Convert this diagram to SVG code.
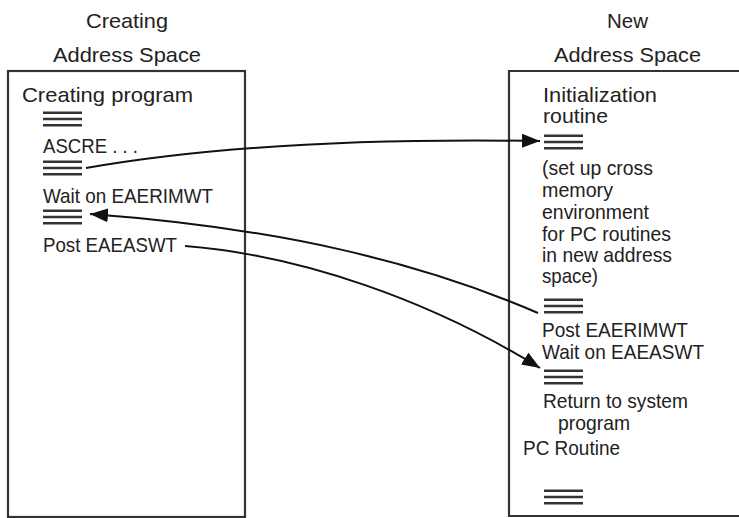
<svg xmlns="http://www.w3.org/2000/svg" width="739" height="518" viewBox="0 0 739 518">
<style>
text{font-family:"Liberation Sans",Arial,sans-serif;font-size:21px;fill:#222;}
.box{fill:none;stroke:#333;stroke-width:2.2;}
.eq{stroke:#333;stroke-width:2.6;}
.conn{fill:none;stroke:#111;stroke-width:2;}
</style>
<defs>
<marker id="ah" markerUnits="userSpaceOnUse" markerWidth="20" markerHeight="14" refX="18" refY="7" orient="auto">
<path d="M0,0 L18,7 L0,14 Z" fill="#111"/>
</marker>
<g id="eqsym">
<line class="eq" x1="0" y1="-6.3" x2="39" y2="-6.3"/>
<line class="eq" x1="0" y1="0" x2="39" y2="0"/>
<line class="eq" x1="0" y1="6.3" x2="39" y2="6.3"/>
</g>
</defs>
<rect width="739" height="518" fill="#fff"/>

<g id="creating-space">
<text x="86" y="28" textLength="82" lengthAdjust="spacingAndGlyphs">Creating</text>
<text x="53" y="62" textLength="148" lengthAdjust="spacingAndGlyphs">Address Space</text>
<rect class="box" x="8" y="71" width="237" height="446"/>
<text x="22" y="102" textLength="171" lengthAdjust="spacingAndGlyphs">Creating program</text>
<use href="#eqsym" x="43" y="119"/>
<text x="43" y="153" textLength="95" lengthAdjust="spacingAndGlyphs">ASCRE . . .</text>
<use href="#eqsym" x="43" y="168"/>
<text x="43" y="203" textLength="170" lengthAdjust="spacingAndGlyphs">Wait on EAERIMWT</text>
<use href="#eqsym" x="43" y="217"/>
<text x="43" y="252" textLength="134" lengthAdjust="spacingAndGlyphs">Post EAEASWT</text>
</g>

<g id="new-space">
<text x="607" y="28" textLength="41" lengthAdjust="spacingAndGlyphs">New</text>
<text x="554" y="62" textLength="147" lengthAdjust="spacingAndGlyphs">Address Space</text>
<path class="box" d="M745,71 H509 V516 H745"/>
<text x="543" y="102" textLength="114" lengthAdjust="spacingAndGlyphs">Initialization</text>
<text x="543" y="123" textLength="65" lengthAdjust="spacingAndGlyphs">routine</text>
<use href="#eqsym" x="544" y="142"/>
<text x="542" y="175" textLength="111" lengthAdjust="spacingAndGlyphs">(set up cross</text>
<text x="542" y="197" textLength="71" lengthAdjust="spacingAndGlyphs">memory</text>
<text x="542" y="219" textLength="107" lengthAdjust="spacingAndGlyphs">environment</text>
<text x="542" y="241" textLength="129" lengthAdjust="spacingAndGlyphs">for PC routines</text>
<text x="542" y="262" textLength="130" lengthAdjust="spacingAndGlyphs">in new address</text>
<text x="542" y="283" textLength="56" lengthAdjust="spacingAndGlyphs">space)</text>
<use href="#eqsym" x="544" y="306"/>
<text x="542" y="337" textLength="146" lengthAdjust="spacingAndGlyphs">Post EAERIMWT</text>
<text x="542" y="359" textLength="162" lengthAdjust="spacingAndGlyphs">Wait on EAEASWT</text>
<use href="#eqsym" x="544" y="377"/>
<text x="543" y="408" textLength="145" lengthAdjust="spacingAndGlyphs">Return to system</text>
<text x="558" y="430" textLength="72" lengthAdjust="spacingAndGlyphs">program</text>
<text x="523" y="455" textLength="97" lengthAdjust="spacingAndGlyphs">PC Routine</text>
<use href="#eqsym" x="544" y="497"/>
</g>

<g id="connectors">
<path class="conn" marker-end="url(#ah)" d="M86,168 C200,148 350,138 540,141"/>
<path class="conn" marker-end="url(#ah)" d="M538,313 C420,262 280,228 90,214"/>
<path class="conn" marker-end="url(#ah)" d="M185,246 C300,255 430,300 540,368"/>
</g>
</svg>
